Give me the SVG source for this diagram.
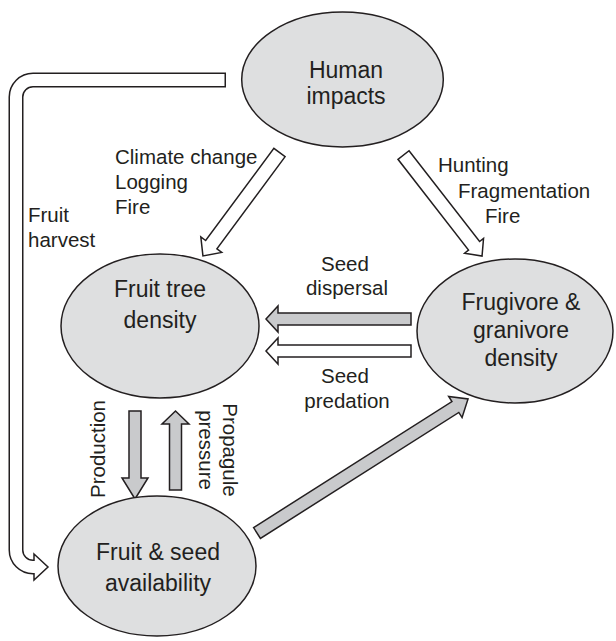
<svg xmlns="http://www.w3.org/2000/svg" width="616" height="641" viewBox="0 0 616 641">
<style>
.nd{fill:#dedfe0;stroke:#231f20;stroke-width:1.5}
.hol{fill:#fff;stroke:#231f20;stroke-width:1.5;stroke-linejoin:miter}
.gry{fill:#c9cacc;stroke:#231f20;stroke-width:1.5;stroke-linejoin:miter}
text{font-family:"Liberation Sans",Arial,sans-serif;fill:#231f20}
.nt{font-size:23px;text-anchor:middle}
.lb{font-size:20.5px}
.mid{text-anchor:middle}
</style>
<rect width="616" height="641" fill="#fff"/>
<g id="connectors">
  <path d="M226 80 H33 A17 17 0 0 0 16 97 V550 A17 17 0 0 0 33 567 H36" fill="none" stroke="#231f20" stroke-width="15"/>
  <polygon class="hol" points="34,554 48,567 34,580"/>
  <path d="M224.5 80 H33 A17 17 0 0 0 16 97 V550 A17 17 0 0 0 33 567 H35.5" fill="none" stroke="#fff" stroke-width="12"/>
  <polygon class="hol" transform="translate(279.5,152.5) rotate(126.5)" points="0,-7 114.7,-7 114.7,-13 128.7,0 114.7,13 114.7,7 0,7"/>
  <polygon class="hol" transform="translate(403.5,155) rotate(52.15)" points="0,-7 115,-7 115,-12 128,0 115,12 115,7 0,7"/>
  <polygon class="gry" points="411,313 278,313 278,306 266,319 278,332 278,325 411,325"/>
  <polygon class="hol" points="411,345 278,345 278,338 266,351 278,364 278,357 411,357"/>
  <polygon class="gry" points="129,411 141,411 141,478 148,478 135,499 122,478 129,478"/>
  <polygon class="gry" points="169.5,490 169.5,424 162,424 175.5,411 189,424 181.5,424 181.5,490"/>
  <polygon class="gry" transform="translate(257,533) rotate(-32.42)" points="0,-6.4 235,-6.4 235,-12.5 250,0 235,12.5 235,6.4 0,6.4"/>
  <text class="lb" x="115" y="164">Climate change</text>
  <text class="lb" x="115" y="189">Logging</text>
  <text class="lb" x="115" y="214">Fire</text>
  <text class="lb" x="438" y="172">Hunting</text>
  <text class="lb" x="458" y="197.5">Fragmentation</text>
  <text class="lb" x="485" y="223">Fire</text>
  <text class="lb" x="28" y="222">Fruit</text>
  <text class="lb" x="28" y="247">harvest</text>
  <text class="lb mid" x="345" y="271">Seed</text>
  <text class="lb mid" x="347" y="295">dispersal</text>
  <text class="lb mid" x="345" y="383">Seed</text>
  <text class="lb mid" x="347" y="408">predation</text>
  <text class="lb mid" transform="translate(105,449) rotate(-90)">Production</text>
  <text class="lb mid" transform="translate(223,450) rotate(90)">Propagule</text>
  <text class="lb mid" transform="translate(199,450) rotate(90)">pressure</text>
</g>
<g id="human">
  <ellipse class="nd" cx="342.5" cy="79.5" rx="100.8" ry="67.5"/>
  <text class="nt" x="346" y="78">Human</text>
  <text class="nt" x="346" y="104">impacts</text>
</g>
<g id="fruittree">
  <ellipse class="nd" cx="160" cy="326" rx="99" ry="72"/>
  <text class="nt" x="160" y="297">Fruit tree</text>
  <text class="nt" x="160" y="328">density</text>
</g>
<g id="frugivore">
  <ellipse class="nd" cx="515" cy="331" rx="98" ry="72"/>
  <text class="nt" x="521" y="310">Frugivore &amp;</text>
  <text class="nt" x="521" y="338">granivore</text>
  <text class="nt" x="521" y="366">density</text>
</g>
<g id="availability">
  <ellipse class="nd" cx="157" cy="566" rx="99" ry="70"/>
  <text class="nt" x="158" y="560">Fruit &amp; seed</text>
  <text class="nt" x="158" y="591">availability</text>
</g>
</svg>
